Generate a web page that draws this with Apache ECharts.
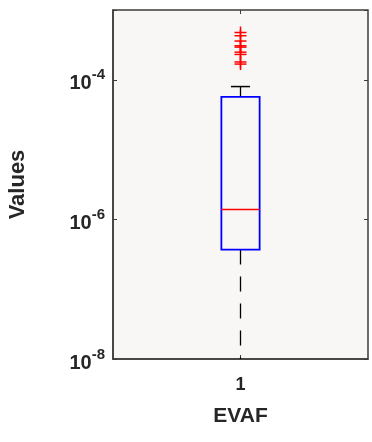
<!DOCTYPE html>
<html>
<head>
<meta charset="utf-8">
<script src="https://cdn.jsdelivr.net/npm/echarts@6/dist/echarts.min.js"></script>
<style>
  html, body { margin: 0; padding: 0; background: #fff; }
  #chart { width: 372px; height: 442px; }
</style>
</head>
<body>
<div id="chart"></div>
<script>
// box statistics
const categories = ["1"];
const lowerWhisker = [8e-9];
const q1 = [3.7e-7];
const median = [1.39e-6];
const q3 = [5.7e-5];
const upperWhisker = [8.0e-5];
const outliers = [4.76e-4, 4.28e-4, 3.59e-4, 3.07e-4, 2.94e-4, 2.49e-4, 2.31e-4, 1.8e-4, 1.68e-4];
const tickExponents = [-8, -6, -4];

const textColor = "#262626";
const frameColor = "#3c3c3c";

const myChart = echarts.init(document.getElementById("chart"));

const boxData = categories.map((c, i) => [i, lowerWhisker[i], q1[i], median[i], q3[i], upperWhisker[i]]);
const outlierData = outliers.map((v) => [0, v]);

// draw the matlab style box
const renderBox = (params, api) => {
  const x = api.value(0);
  const band = api.size([1, 0])[0];
  const half = band * 0.075;
  const capHalf = half / 2;
  const pLow = api.coord([x, api.value(1)]);
  const pQ1 = api.coord([x, api.value(2)]);
  const pMed = api.coord([x, api.value(3)]);
  const pQ3 = api.coord([x, api.value(4)]);
  const pHigh = api.coord([x, api.value(5)]);
  const cx = pQ1[0];
  const whisker = { stroke: "#000", lineWidth: 1.3, lineDash: [15, 12] };
  return {
    type: "group",
    children: [
      { type: "line", shape: { x1: cx, y1: pQ1[1], x2: cx, y2: pLow[1] }, style: whisker },
      { type: "line", shape: { x1: cx, y1: pQ3[1], x2: cx, y2: pHigh[1] }, style: whisker },
      { type: "line", shape: { x1: cx - capHalf, y1: pHigh[1], x2: cx + capHalf, y2: pHigh[1] }, style: { stroke: "#000", lineWidth: 1.5 } },
      { type: "line", shape: { x1: cx - capHalf, y1: pLow[1], x2: cx + capHalf, y2: pLow[1] }, style: { stroke: "#000", lineWidth: 1.5 } },
      {
        type: "rect",
        shape: { x: cx - half, y: pQ3[1], width: half * 2, height: pQ1[1] - pQ3[1] },
        style: { fill: "none", stroke: "#0000ff", lineWidth: 1.8 },
      },
      { type: "line", shape: { x1: cx - half, y1: pMed[1], x2: cx + half, y2: pMed[1] }, style: { stroke: "#ff0000", lineWidth: 1.5 } },
    ],
  };
};

// red plus markers
const renderOutlier = (params, api) => {
  const p = api.coord([api.value(0), api.value(1)]);
  const r = 6;
  const style = { stroke: "#ff0000", lineWidth: 1.5 };
  return {
    type: "group",
    children: [
      { type: "line", shape: { x1: p[0] - r, y1: p[1], x2: p[0] + r, y2: p[1] }, style },
      { type: "line", shape: { x1: p[0], y1: p[1] - r, x2: p[0], y2: p[1] + r }, style },
    ],
  };
};

const labelFormatter = (value) => {
  const e = Math.round(Math.log10(value));
  if (tickExponents.indexOf(e) < 0) return "";
  return "{b|10}{s|" + e + "}";
};

const options = {
  backgroundColor: "#fff",
  animation: false,
  grid: {
    left: 113,
    right: 4,
    top: 10,
    bottom: 83,
    outerBoundsMode: "none",
    containLabel: false,
    show: true,
    backgroundColor: "#f9f6f6",
    borderColor: frameColor,
    borderWidth: 1.5,
  },
  xAxis: [
    {
      type: "category",
      data: categories,
      position: "bottom",
      axisLine: { show: true, lineStyle: { color: frameColor, width: 1.5 } },
      axisTick: { show: true, inside: true, alignWithLabel: true, length: 4, lineStyle: { color: frameColor } },
      axisLabel: { color: textColor, fontSize: 18, fontWeight: "bold", fontFamily: "Liberation Sans", margin: 17 },
      name: "EVAF",
      nameLocation: "middle",
      nameGap: 47,
      nameTextStyle: { color: textColor, fontSize: 21, fontWeight: "bold", fontFamily: "Liberation Sans" },
    },
    {
      type: "category",
      data: categories,
      position: "top",
      axisLine: { show: false },
      axisTick: { show: true, inside: true, alignWithLabel: true, length: 4, lineStyle: { color: frameColor } },
      axisLabel: { show: false },
    },
  ],
  yAxis: [
    {
      type: "log",
      logBase: 10,
      min: 1e-8,
      max: 1e-3,
      interval: 2,
      position: "left",
      axisLine: { show: true, lineStyle: { color: frameColor, width: 1.5 } },
      axisTick: { show: true, inside: true, length: 4, lineStyle: { color: frameColor } },
      splitLine: { show: false },
      axisLabel: {
        color: textColor,
        margin: 8,
        formatter: labelFormatter,
        rich: {
          b: { fontSize: 20, fontWeight: "bold", fontFamily: "Liberation Sans", color: textColor, padding: [8, 0, 0, 0] },
          s: { fontSize: 15, fontWeight: "bold", fontFamily: "Liberation Sans", color: textColor, padding: [0, 0, 9, 0] },
        },
      },
      name: "Values",
      nameLocation: "middle",
      nameGap: 84,
      nameTextStyle: { color: textColor, fontSize: 22, fontWeight: "bold", fontFamily: "Liberation Sans" },
    },
    {
      type: "log",
      logBase: 10,
      min: 1e-8,
      max: 1e-3,
      interval: 2,
      position: "right",
      axisLine: { show: false },
      axisTick: { show: true, inside: true, length: 4, lineStyle: { color: frameColor } },
      splitLine: { show: false },
      axisLabel: { show: false },
    },
  ],
  series: [
    {
      type: "custom",
      xAxisIndex: 0,
      yAxisIndex: 0,
      clip: true,
      data: boxData,
      renderItem: renderBox,
      encode: { x: 0, y: [1, 2, 3, 4, 5] },
    },
    {
      type: "custom",
      xAxisIndex: 0,
      yAxisIndex: 0,
      clip: true,
      data: outlierData,
      renderItem: renderOutlier,
      encode: { x: 0, y: 1 },
    },
  ],
};

myChart.setOption(options);
</script>
</body>
</html>
